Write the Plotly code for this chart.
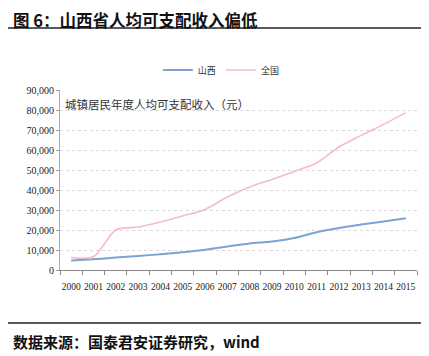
import plotly.graph_objects as go

years = [str(y) for y in range(2000, 2016)]
shanxi = [4700, 5400, 6200, 7000, 7900, 8900, 10100, 11800, 13300, 14200, 16000, 18900, 21000, 22700, 24300, 25900]
national = [6300, 6600, 20000, 21500, 24000, 27000, 30300, 36500, 41500, 45300, 49300, 53500, 61500, 67300, 72800, 78700]
y_ticks = list(range(0, 90001, 10000))
y_tick_text = ["0"] + [f"{v:,}" for v in y_ticks[1:]]

fig = go.Figure()
fig.add_trace(go.Scatter(x=years, y=shanxi, name="山西", mode="lines",
                         line=dict(color="#7BA3D6", width=2, shape="spline", smoothing=0.8)))
fig.add_trace(go.Scatter(x=years, y=national, name="全国", mode="lines",
                         line=dict(color="#F6BCC6", width=1.6, shape="spline", smoothing=0.8)))

serif = "Liberation Serif, Times New Roman, serif"
cjk = "Noto Sans CJK SC, sans-serif"

# page body has an 8px margin, so the figure is 8px smaller and offset
fig.update_layout(
    width=421, height=348,
    margin=dict(l=52, r=12, t=82, b=86, autoexpand=False),
    paper_bgcolor="white", plot_bgcolor="white",
    showlegend=True,
    legend=dict(orientation="h", x=0.452, xanchor="center", y=1.111, yanchor="middle",
                font=dict(family=cjk, size=9, color="#333333"), itemwidth=30,
                bgcolor="rgba(0,0,0,0)"),
    xaxis=dict(type="category", range=[-0.5, 15.5], tickson="boundaries",
               ticks="outside", ticklen=4, tickcolor="#888888", tickangle=0,
               showline=True, linecolor="#888888", linewidth=1, automargin=False,
               showgrid=False, tickfont=dict(family=serif, size=9.5, color="#222222"),
               ticklabelstandoff=8, fixedrange=True),
    yaxis=dict(range=[0, 90000], tickvals=y_ticks, ticktext=y_tick_text,
               ticks="outside", ticklen=3, tickcolor="#999999", automargin=False,
               showline=True, linecolor="#AAAAAA", linewidth=1,
               showgrid=True, gridcolor="#D9D9D9", griddash="dot", gridwidth=1,
               zeroline=False, tickfont=dict(family=serif, size=10, color="#222222"),
               fixedrange=True),
)

fig.add_annotation(text="城镇居民年度人均可支配收入（元）", xref="paper", yref="paper",
                   x=0.008, y=(270 - 104) / 180, xanchor="left", yanchor="middle",
                   showarrow=False, font=dict(family=cjk, size=11.5, color="#333333"))

fig.add_annotation(text="<b>图 6：山西省人均可支配收入偏低</b>", xref="paper", yref="paper",
                   x=(12 - 60) / 357, y=(270 - 19.5) / 180, xanchor="left", yanchor="middle",
                   showarrow=False, borderpad=0, font=dict(family=cjk, size=16.5, color="#111111"))
fig.add_annotation(text="<b>数据来源：国泰君安证券研究，wind</b>", xref="paper", yref="paper",
                   x=(11 - 60) / 357, y=(270 - 341) / 180, xanchor="left", yanchor="middle",
                   showarrow=False, font=dict(family=cjk, size=15, color="#111111"))

fig.add_shape(type="line", xref="paper", yref="paper",
              x0=(8 - 60) / 357, x1=(427 - 60) / 357, y0=(270 - 28) / 180, y1=(270 - 28) / 180,
              line=dict(color="#222222", width=1.5))
fig.add_shape(type="line", xref="paper", yref="paper",
              x0=(8 - 60) / 357, x1=(427 - 60) / 357, y0=(270 - 323) / 180, y1=(270 - 323) / 180,
              line=dict(color="#222222", width=1.5))

fig.write_html("out.html")
